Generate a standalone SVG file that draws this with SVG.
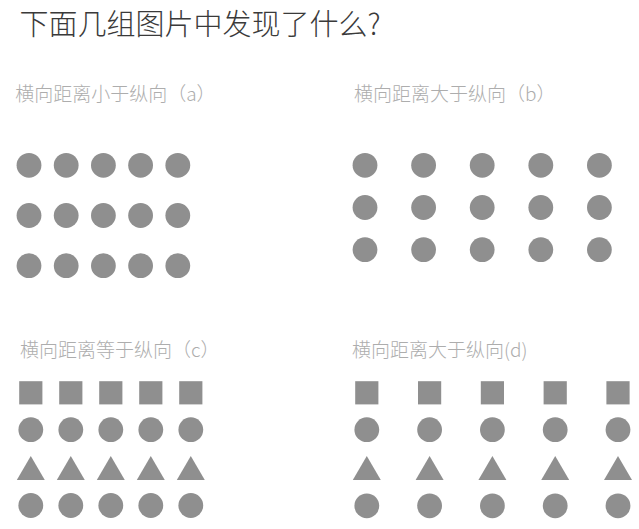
<svg xmlns="http://www.w3.org/2000/svg" xmlns:xlink="http://www.w3.org/1999/xlink" width="639" height="529" viewBox="0 0 639 529">
  <style>
    .title { font-family: "Noto Sans CJK SC", "Noto Sans", sans-serif; font-size: 29px; font-weight: 300; fill: #3a3a3a; }
    .sub { font-family: "Noto Sans CJK SC", "Noto Sans", sans-serif; font-size: 19px; font-weight: 300; fill: #adadad; }
    .shape { fill: #8f8f8f; }
  </style>
  <defs>
    <circle id="dot" cx="0" cy="0" r="12.4" class="shape"/>
    <rect id="sq" x="-11.6" y="-11.6" width="23.2" height="23.2" class="shape"/>
    <polygon id="tri" points="0,-12 14,12 -14,12" class="shape"/>
  </defs>
  <rect x="0" y="0" width="639" height="529" fill="#ffffff"/>

  <g id="title">
    <text class="title" x="19.5" y="35">下面几组图片中发现了什么?</text>
  </g>

  <g id="panel-a">
    <text class="sub" x="15.2" y="100.5">横向距离小于纵向（a）</text>
    <g>
      <use xlink:href="#dot" x="29" y="165.3"/><use xlink:href="#dot" x="66.2" y="165.3"/><use xlink:href="#dot" x="103.4" y="165.3"/><use xlink:href="#dot" x="140.6" y="165.3"/><use xlink:href="#dot" x="177.8" y="165.3"/>
      <use xlink:href="#dot" x="29" y="215.5"/><use xlink:href="#dot" x="66.2" y="215.5"/><use xlink:href="#dot" x="103.4" y="215.5"/><use xlink:href="#dot" x="140.6" y="215.5"/><use xlink:href="#dot" x="177.8" y="215.5"/>
      <use xlink:href="#dot" x="29" y="265.7"/><use xlink:href="#dot" x="66.2" y="265.7"/><use xlink:href="#dot" x="103.4" y="265.7"/><use xlink:href="#dot" x="140.6" y="265.7"/><use xlink:href="#dot" x="177.8" y="265.7"/>
    </g>
  </g>

  <g id="panel-b">
    <text class="sub" x="354" y="100.5">横向距离大于纵向（b）</text>
    <g>
      <use xlink:href="#dot" x="365" y="165.3"/><use xlink:href="#dot" x="423.6" y="165.3"/><use xlink:href="#dot" x="482.2" y="165.3"/><use xlink:href="#dot" x="540.8" y="165.3"/><use xlink:href="#dot" x="599.4" y="165.3"/>
      <use xlink:href="#dot" x="365" y="207.5"/><use xlink:href="#dot" x="423.6" y="207.5"/><use xlink:href="#dot" x="482.2" y="207.5"/><use xlink:href="#dot" x="540.8" y="207.5"/><use xlink:href="#dot" x="599.4" y="207.5"/>
      <use xlink:href="#dot" x="365" y="249.7"/><use xlink:href="#dot" x="423.6" y="249.7"/><use xlink:href="#dot" x="482.2" y="249.7"/><use xlink:href="#dot" x="540.8" y="249.7"/><use xlink:href="#dot" x="599.4" y="249.7"/>
    </g>
  </g>

  <g id="panel-c">
    <text class="sub" x="20" y="357">横向距离等于纵向（c）</text>
    <g>
      <use xlink:href="#sq" x="30.8" y="392.8"/><use xlink:href="#sq" x="70.8" y="392.8"/><use xlink:href="#sq" x="110.8" y="392.8"/><use xlink:href="#sq" x="150.8" y="392.8"/><use xlink:href="#sq" x="190.8" y="392.8"/>
      <use xlink:href="#dot" x="30.8" y="429.7"/><use xlink:href="#dot" x="70.8" y="429.7"/><use xlink:href="#dot" x="110.8" y="429.7"/><use xlink:href="#dot" x="150.8" y="429.7"/><use xlink:href="#dot" x="190.8" y="429.7"/>
      <use xlink:href="#tri" x="30.8" y="468"/><use xlink:href="#tri" x="70.8" y="468"/><use xlink:href="#tri" x="110.8" y="468"/><use xlink:href="#tri" x="150.8" y="468"/><use xlink:href="#tri" x="190.8" y="468"/>
      <use xlink:href="#dot" x="30.8" y="505.5"/><use xlink:href="#dot" x="70.8" y="505.5"/><use xlink:href="#dot" x="110.8" y="505.5"/><use xlink:href="#dot" x="150.8" y="505.5"/><use xlink:href="#dot" x="190.8" y="505.5"/>
    </g>
  </g>

  <g id="panel-d">
    <text class="sub" x="352" y="357">横向距离大于纵向(d)</text>
    <g>
      <use xlink:href="#sq" x="366.8" y="392.8"/><use xlink:href="#sq" x="429.6" y="392.8"/><use xlink:href="#sq" x="492.4" y="392.8"/><use xlink:href="#sq" x="555.2" y="392.8"/><use xlink:href="#sq" x="618" y="392.8"/>
      <use xlink:href="#dot" x="366.8" y="429.7"/><use xlink:href="#dot" x="429.6" y="429.7"/><use xlink:href="#dot" x="492.4" y="429.7"/><use xlink:href="#dot" x="555.2" y="429.7"/><use xlink:href="#dot" x="618" y="429.7"/>
      <use xlink:href="#tri" x="366.8" y="468"/><use xlink:href="#tri" x="429.6" y="468"/><use xlink:href="#tri" x="492.4" y="468"/><use xlink:href="#tri" x="555.2" y="468"/><use xlink:href="#tri" x="618" y="468"/>
      <use xlink:href="#dot" x="366.8" y="505.8"/><use xlink:href="#dot" x="429.6" y="505.8"/><use xlink:href="#dot" x="492.4" y="505.8"/><use xlink:href="#dot" x="555.2" y="505.8"/><use xlink:href="#dot" x="618" y="505.8"/>
    </g>
  </g>
</svg>
